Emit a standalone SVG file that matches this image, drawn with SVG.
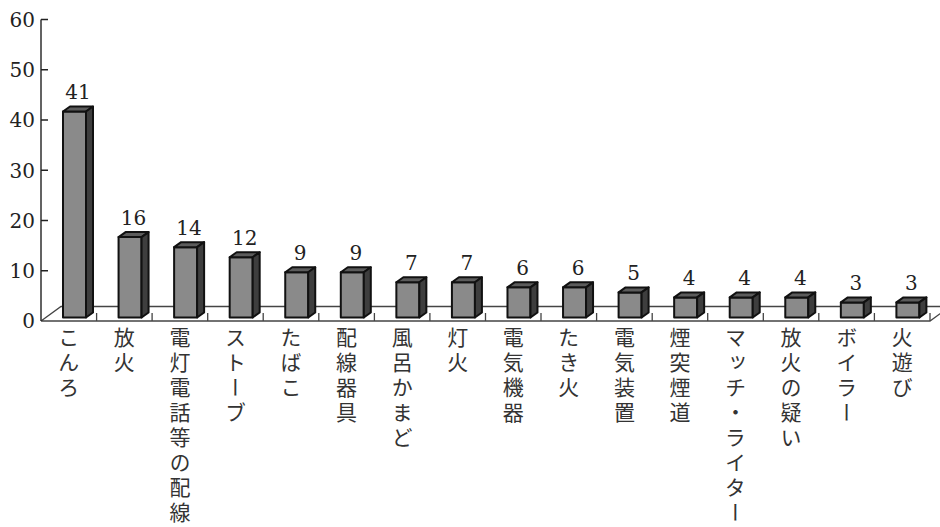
<svg xmlns="http://www.w3.org/2000/svg" width="940" height="527" viewBox="0 0 940 527">
<style>
.bg{fill:#ffffff}
.axis{stroke:#222;stroke-width:1.4;fill:none}
.floor{stroke:#444;stroke-width:1.3;fill:none}
.front{fill:#8a8a8a;stroke:#111;stroke-width:2;stroke-linejoin:round}
.top{fill:#5c5c5c;stroke:#111;stroke-width:2;stroke-linejoin:round}
.side{fill:#3e3e3e;stroke:#111;stroke-width:2;stroke-linejoin:round}
.num{font-family:"DejaVu Serif","Noto Serif",serif;font-size:20px;fill:#222;text-anchor:middle}
.ynum{font-family:"DejaVu Serif","Noto Serif",serif;font-size:20px;fill:#222;text-anchor:end}
.cat{font-family:"Noto Sans CJK JP","Noto Sans CJK SC",sans-serif;font-size:21px;fill:#333;writing-mode:vertical-rl;letter-spacing:4px}
</style>
<rect class="bg" x="0" y="0" width="940" height="527"/>
<g id="axes">
<path class="floor" d="M41,321 L61,306.5 L940,306.5 M41,321 L930,321 L950,306.5"/>
<path class="floor" d="M96.6,321V313 M152.1,321V313 M207.7,321V313 M263.2,321V313 M318.8,321V313 M374.4,321V313 M429.9,321V313 M485.5,321V313 M541,321V313 M596.6,321V313 M652.2,321V313 M707.7,321V313 M763.3,321V313 M818.8,321V313 M874.4,321V313 M930,321V313"/>
<path class="axis" d="M41,19.5V321 M41,19.5H48 M41,69.75H48 M41,120H48 M41,170.25H48 M41,220.5H48 M41,270.75H48"/>
<text class="ynum" x="35" y="27">60</text>
<text class="ynum" x="35" y="77">50</text>
<text class="ynum" x="35" y="127">40</text>
<text class="ynum" x="35" y="177.5">30</text>
<text class="ynum" x="35" y="227.5">20</text>
<text class="ynum" x="35" y="278">10</text>
<text class="ynum" x="35" y="328">0</text>
</g>
<g id="connectors"></g>
<g id="bar-0"><g transform="translate(63,317.5)"><rect class="front" x="0" y="-206" width="23" height="206"/><polygon class="top" points="0,-206 7,-211 30,-211 23,-206"/><polygon class="side" points="23,-206 30,-211 30,-5 23,0"/></g><text class="num" x="78" y="99">41</text><text class="cat" x="68.8" y="327">こんろ</text></g>
<g id="bar-1"><g transform="translate(118.56,317.5)"><rect class="front" x="0" y="-80.4" width="23" height="80.4"/><polygon class="top" points="0,-80.4 7,-85.4 30,-85.4 23,-80.4"/><polygon class="side" points="23,-80.4 30,-85.4 30,-5 23,0"/></g><text class="num" x="133.6" y="224.6">16</text><text class="cat" x="124.36" y="327">放火</text></g>
<g id="bar-2"><g transform="translate(174.12,317.5)"><rect class="front" x="0" y="-70.35" width="23" height="70.35"/><polygon class="top" points="0,-70.35 7,-75.35 30,-75.35 23,-70.35"/><polygon class="side" points="23,-70.35 30,-75.35 30,-5 23,0"/></g><text class="num" x="189.1" y="234.6">14</text><text class="cat" x="179.92" y="327">電灯電話等の配線</text></g>
<g id="bar-3"><g transform="translate(229.68,317.5)"><rect class="front" x="0" y="-60.3" width="23" height="60.3"/><polygon class="top" points="0,-60.3 7,-65.3 30,-65.3 23,-60.3"/><polygon class="side" points="23,-60.3 30,-65.3 30,-5 23,0"/></g><text class="num" x="244.7" y="244.7">12</text><text class="cat" x="235.48" y="327">ストーブ</text></g>
<g id="bar-4"><g transform="translate(285.24,317.5)"><rect class="front" x="0" y="-45.2" width="23" height="45.2"/><polygon class="top" points="0,-45.2 7,-50.2 30,-50.2 23,-45.2"/><polygon class="side" points="23,-45.2 30,-50.2 30,-5 23,0"/></g><text class="num" x="300.2" y="259.8">9</text><text class="cat" x="291.04" y="327">たばこ</text></g>
<g id="bar-5"><g transform="translate(340.8,317.5)"><rect class="front" x="0" y="-45.2" width="23" height="45.2"/><polygon class="top" points="0,-45.2 7,-50.2 30,-50.2 23,-45.2"/><polygon class="side" points="23,-45.2 30,-50.2 30,-5 23,0"/></g><text class="num" x="355.8" y="259.8">9</text><text class="cat" x="346.6" y="327">配線器具</text></g>
<g id="bar-6"><g transform="translate(396.36,317.5)"><rect class="front" x="0" y="-35.2" width="23" height="35.2"/><polygon class="top" points="0,-35.2 7,-40.2 30,-40.2 23,-35.2"/><polygon class="side" points="23,-35.2 30,-40.2 30,-5 23,0"/></g><text class="num" x="411.4" y="269.8">7</text><text class="cat" x="402.16" y="327">風呂かまど</text></g>
<g id="bar-7"><g transform="translate(451.92,317.5)"><rect class="front" x="0" y="-35.2" width="23" height="35.2"/><polygon class="top" points="0,-35.2 7,-40.2 30,-40.2 23,-35.2"/><polygon class="side" points="23,-35.2 30,-40.2 30,-5 23,0"/></g><text class="num" x="466.9" y="269.8">7</text><text class="cat" x="457.72" y="327">灯火</text></g>
<g id="bar-8"><g transform="translate(507.48,317.5)"><rect class="front" x="0" y="-30.15" width="23" height="30.15"/><polygon class="top" points="0,-30.15 7,-35.15 30,-35.15 23,-30.15"/><polygon class="side" points="23,-30.15 30,-35.15 30,-5 23,0"/></g><text class="num" x="522.5" y="274.9">6</text><text class="cat" x="513.28" y="327">電気機器</text></g>
<g id="bar-9"><g transform="translate(563.04,317.5)"><rect class="front" x="0" y="-30.15" width="23" height="30.15"/><polygon class="top" points="0,-30.15 7,-35.15 30,-35.15 23,-30.15"/><polygon class="side" points="23,-30.15 30,-35.15 30,-5 23,0"/></g><text class="num" x="578" y="274.9">6</text><text class="cat" x="568.84" y="327">たき火</text></g>
<g id="bar-10"><g transform="translate(618.6,317.5)"><rect class="front" x="0" y="-25.1" width="23" height="25.1"/><polygon class="top" points="0,-25.1 7,-30.1 30,-30.1 23,-25.1"/><polygon class="side" points="23,-25.1 30,-30.1 30,-5 23,0"/></g><text class="num" x="633.6" y="279.9">5</text><text class="cat" x="624.4" y="327">電気装置</text></g>
<g id="bar-11"><g transform="translate(674.16,317.5)"><rect class="front" x="0" y="-20.1" width="23" height="20.1"/><polygon class="top" points="0,-20.1 7,-25.1 30,-25.1 23,-20.1"/><polygon class="side" points="23,-20.1 30,-25.1 30,-5 23,0"/></g><text class="num" x="689.2" y="284.9">4</text><text class="cat" x="679.96" y="327">煙突煙道</text></g>
<g id="bar-12"><g transform="translate(729.72,317.5)"><rect class="front" x="0" y="-20.1" width="23" height="20.1"/><polygon class="top" points="0,-20.1 7,-25.1 30,-25.1 23,-20.1"/><polygon class="side" points="23,-20.1 30,-25.1 30,-5 23,0"/></g><text class="num" x="744.7" y="284.9">4</text><text class="cat" x="735.52" y="327">マッチ・ライター</text></g>
<g id="bar-13"><g transform="translate(785.28,317.5)"><rect class="front" x="0" y="-20.1" width="23" height="20.1"/><polygon class="top" points="0,-20.1 7,-25.1 30,-25.1 23,-20.1"/><polygon class="side" points="23,-20.1 30,-25.1 30,-5 23,0"/></g><text class="num" x="800.3" y="284.9">4</text><text class="cat" x="791.08" y="327">放火の疑い</text></g>
<g id="bar-14"><g transform="translate(840.84,317.5)"><rect class="front" x="0" y="-15.1" width="23" height="15.1"/><polygon class="top" points="0,-15.1 7,-20.1 30,-20.1 23,-15.1"/><polygon class="side" points="23,-15.1 30,-20.1 30,-5 23,0"/></g><text class="num" x="855.8" y="289.9">3</text><text class="cat" x="846.64" y="327">ボイラー</text></g>
<g id="bar-15"><g transform="translate(896.4,317.5)"><rect class="front" x="0" y="-15.1" width="23" height="15.1"/><polygon class="top" points="0,-15.1 7,-20.1 30,-20.1 23,-15.1"/><polygon class="side" points="23,-15.1 30,-20.1 30,-5 23,0"/></g><text class="num" x="911.4" y="289.9">3</text><text class="cat" x="902.2" y="327">火遊び</text></g>
</svg>
